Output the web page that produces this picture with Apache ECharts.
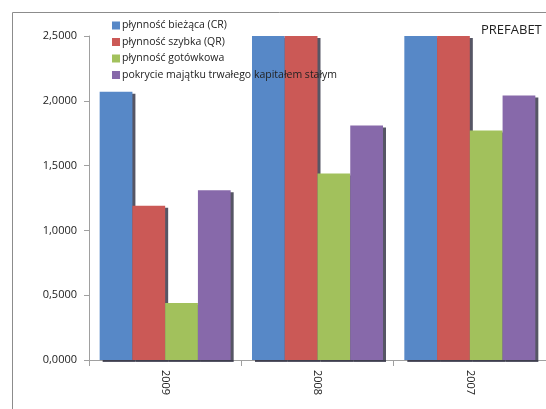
<!DOCTYPE html>
<html><head><meta charset="utf-8">
<script src="https://cdn.jsdelivr.net/npm/echarts@6/dist/echarts.min.js"></script>
<style>html,body{margin:0;padding:0;background:#fff}#c{width:546px;height:409px}</style>
</head><body><div id="c"></div>
<script>
var categories = ['2009', '2008', '2007'];
var seriesNames = ['płynność bieżąca (CR)', 'płynność szybka (QR)', 'płynność gotówkowa', 'pokrycie majątku trwałego kapitałem stałym'];
var crValues = [2.07, 2.5, 2.5];
var qrValues = [1.19, 2.5, 2.5];
var cashValues = [0.44, 1.44, 1.77];
var coverValues = [1.31, 1.81, 2.04];
var yTicks = [0, 0.5, 1, 1.5, 2, 2.5];
var colors = ['#5788c7', '#cb5956', '#a2c15c', '#8769aa'];

var chart = echarts.init(document.getElementById('c'));
var allValues = [crValues, qrValues, cashValues, coverValues];
var series = allValues.map(function (vals, i) {
  return {
    name: seriesNames[i], type: 'bar', data: vals,
    barGap: '0%', barCategoryGap: '14%',
    itemStyle: { color: colors[i], shadowColor: 'rgba(30,30,50,0.75)', shadowOffsetX: 3, shadowOffsetY: 2, shadowBlur: 0 }
  };
});
chart.setOption({
  animation: false,
  graphic: [{ type: 'rect', left: 10, top: 10, shape: { width: 560, height: 420 }, style: { fill: 'none', stroke: '#8c8c8c', lineWidth: 1 }, z: -1 },
    { type: 'text', left: 481, top: 24, style: { text: 'PREFABET', font: '13px "Open Sans", sans-serif', fill: '#222' } }],
  legend: {
    orient: 'vertical', left: 107, top: 15, itemWidth: 8, itemHeight: 8, itemGap: 5.5, icon: 'rect',
    textStyle: { fontSize: 10.5, color: '#222', fontFamily: '"Open Sans", sans-serif', padding: [0, 0, 0, -3] },
    data: seriesNames
  },
  grid: { left: 89, top: 36, width: 462, bottom: 49 },
  xAxis: {
    type: 'category', data: categories,
    axisLine: { lineStyle: { color: '#a0a0a0' } },
    axisTick: { show: true, length: 6, lineStyle: { color: '#a0a0a0' } },
    axisLabel: { rotate: -90, fontSize: 11, color: '#222', fontFamily: '"Open Sans", sans-serif', margin: 10 }
  },
  yAxis: {
    type: 'value', min: yTicks[0], max: yTicks[yTicks.length - 1], interval: 0.5,
    axisLine: { show: true, lineStyle: { color: '#a0a0a0' } },
    axisTick: { show: true, length: 5, lineStyle: { color: '#a0a0a0' } },
    splitLine: { show: false },
    axisLabel: { fontSize: 11, color: '#222', fontFamily: '"Open Sans", sans-serif', margin: 12,
      formatter: function (v) { return v.toFixed(4).replace('.', ','); } }
  },
  series: series
});
</script></body></html>
